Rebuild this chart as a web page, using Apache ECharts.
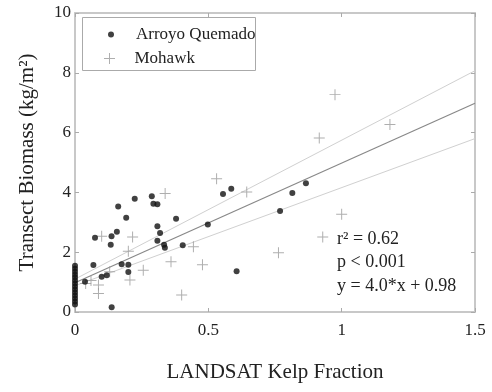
<!DOCTYPE html>
<html><head><meta charset="utf-8">
<script src="https://cdn.jsdelivr.net/npm/echarts@6/dist/echarts.min.js"></script>
<style>html,body{margin:0;padding:0;background:#fff}#c{width:492px;height:392px}</style>
</head><body><div id="c"></div>
<script>
// Arroyo Quemado (dots)
const arroyoX = [0,0,0,0,0,0,0,0,0,0,0,0,0,0,
  0.0375,0.069,0.075,0.10,0.119,0.134,0.137,0.1375,0.157,0.162,0.175,0.192,0.20,0.20,0.224,
  0.288,0.294,0.309,0.309,0.319,0.309,0.334,0.337,0.379,0.404,0.498,0.555,0.586,0.606,0.769,0.815,0.866];
const arroyoY = [1.55,1.45,1.35,1.25,1.15,1.05,0.95,0.85,0.75,0.65,0.55,0.45,0.35,0.25,
  1.01,1.57,2.48,1.18,1.23,2.25,2.53,0.16,2.68,3.53,1.60,3.15,1.58,1.34,3.79,
  3.87,3.62,3.60,2.87,2.64,2.38,2.25,2.15,3.12,2.23,2.93,3.95,4.12,1.36,3.38,3.98,4.31];
// Mohawk (plus)
const mohawkX = [0.04,0.06,0.088,0.088,0.10,0.13,0.20,0.206,0.216,0.256,0.338,0.36,0.40,0.444,0.478,0.531,0.644,0.763,0.916,0.929,0.975,1.0,1.181];
const mohawkY = [0.95,1.05,0.62,0.90,2.53,1.35,2.03,1.07,2.51,1.40,3.96,1.68,0.57,2.18,1.58,4.46,4.01,1.98,5.82,2.51,7.27,3.27,6.27];
// regression line and bounds
const fitX = [0, 1.5];
const fitY = [0.98, 6.98];
const upperY = [1.10, 8.07];
const lowerY = [0.88, 5.80];
const xTicks = [0, 0.5, 1, 1.5];
const yTicks = [0, 2, 4, 6, 8, 10];
const statLines = ['r\u00B2 = 0.62', 'p < 0.001', 'y = 4.0*x + 0.98'];

const FF = '"Liberation Serif", "Times New Roman", serif';
const pairs = (xs, ys) => xs.map((x, i) => [x, ys[i]]);
const PLUS = 'path://M-1,-0.09 L1,-0.09 L1,0.09 L-1,0.09 Z M-0.09,-1 L0.09,-1 L0.09,1 L-0.09,1 Z';

const axisLineStyle = {color: '#c8c8c8', width: 2};
const tickStyle = {color: '#aaa', width: 1};

const chart = echarts.init(document.getElementById('c'));
chart.setOption({
  animation: false,
  backgroundColor: '#fff',
  grid: {left: 75, right: 17, top: 13, bottom: 80},
  xAxis: [{
    type: 'value', min: xTicks[0], max: xTicks[xTicks.length - 1], interval: 0.5, position: 'bottom',
    axisLine: {show: true, onZero: false, lineStyle: axisLineStyle},
    axisTick: {show: true, inside: true, length: 4, lineStyle: tickStyle},
    axisLabel: {margin: 10, fontSize: 17, color: '#222', fontFamily: FF},
    splitLine: {show: false},
    name: 'LANDSAT Kelp Fraction', nameLocation: 'middle', nameGap: 50,
    nameTextStyle: {fontSize: 21, color: '#222', fontFamily: FF}
  }, {
    type: 'value', min: 0, max: 1.5, interval: 0.5, position: 'top',
    axisLine: {show: true, onZero: false, lineStyle: axisLineStyle},
    axisTick: {show: true, inside: true, length: 4, lineStyle: tickStyle},
    axisLabel: {show: false}, splitLine: {show: false}
  }],
  yAxis: [{
    type: 'value', min: yTicks[0], max: yTicks[yTicks.length - 1], interval: 2, position: 'left',
    axisLine: {show: true, onZero: false, lineStyle: axisLineStyle},
    axisTick: {show: true, inside: true, length: 4, lineStyle: tickStyle},
    axisLabel: {margin: 4, fontSize: 17, color: '#222', fontFamily: FF},
    splitLine: {show: false},
    name: 'Transect Biomass (kg/m\u00B2)', nameLocation: 'middle', nameGap: 37,
    nameTextStyle: {fontSize: 21, color: '#222', fontFamily: FF}
  }, {
    type: 'value', min: 0, max: 10, interval: 2, position: 'right',
    axisLine: {show: true, onZero: false, lineStyle: axisLineStyle},
    axisTick: {show: true, inside: true, length: 4, lineStyle: tickStyle},
    axisLabel: {show: false}, splitLine: {show: false}
  }],
  legend: [{
    data: ['Arroyo Quemado'], left: 108, top: 26, padding: 0,
    itemWidth: 40, itemHeight: 6,
    textStyle: {fontSize: 17, color: '#222', fontFamily: FF}
  }, {
    data: ['Mohawk'], left: 104, top: 50, padding: 0,
    itemWidth: 40, itemHeight: 11,
    textStyle: {fontSize: 17, color: '#222', fontFamily: FF}
  }],
  graphic: [
    {type: 'rect', left: 82, top: 17, z: 0, shape: {width: 173, height: 53},
     style: {fill: '#fff', stroke: '#aaa', lineWidth: 1}},
    ...statLines.map((t, i) => ({
      type: 'text', x: 337, y: 239 + i * 23.5, z: 10,
      style: {text: t, font: '18px ' + FF, fill: '#222', verticalAlign: 'middle'}
    }))
  ],
  series: [
    {type: 'line', data: pairs(fitX, upperY), showSymbol: false, silent: true, z: 1,
     lineStyle: {color: '#d0d0d0', width: 1}},
    {type: 'line', data: pairs(fitX, lowerY), showSymbol: false, silent: true, z: 1,
     lineStyle: {color: '#d0d0d0', width: 1}},
    {type: 'line', data: pairs(fitX, fitY), showSymbol: false, silent: true, z: 1,
     lineStyle: {color: '#888', width: 1.2}},
    {name: 'Mohawk', type: 'scatter', data: pairs(mohawkX, mohawkY), symbol: PLUS, symbolSize: 11, z: 3,
     itemStyle: {color: '#9a9a9a'}},
    {name: 'Arroyo Quemado', type: 'scatter', data: pairs(arroyoX, arroyoY), symbol: 'circle', symbolSize: 6, z: 4,
     itemStyle: {color: '#111'}}
  ]
});
</script></body></html>
